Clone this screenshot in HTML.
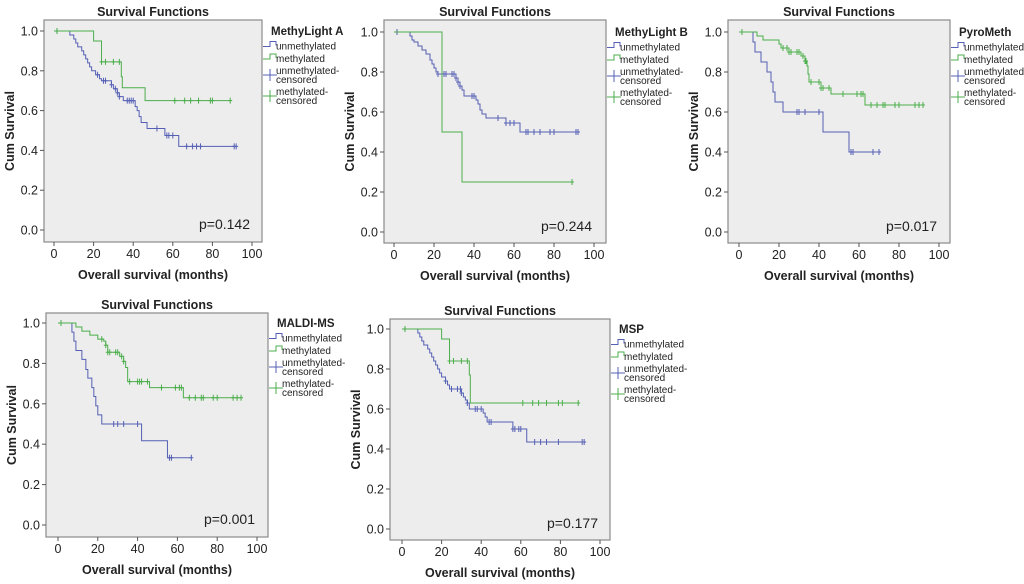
<!DOCTYPE html>
<html><head><meta charset="utf-8">
<style>
html,body{margin:0;padding:0;background:#fff;width:1024px;height:584px;overflow:hidden}
svg{display:block}
text{font-family:"Liberation Sans",Arial,sans-serif;fill:#222}
</style></head>
<body>
<svg id="fig" width="1024" height="584" viewBox="0 0 1024 584" xmlns="http://www.w3.org/2000/svg"></svg>
<script>
// ---- data ----
const xTicks = [0,20,40,60,80,100];
const yTicks = [0.0,0.2,0.4,0.6,0.8,1.0];
const legendLabels = ["unmethylated","methylated","unmethylated-|censored","methylated-|censored"];
const panelTitles = ["MethyLight A","MethyLight B","PyroMeth","MALDI-MS","MSP"];
const pValues = ["p=0.142","p=0.244","p=0.017","p=0.001","p=0.177"];

// panel 1 MethyLight A
const aUnTimes = [8,10,11,12,14,15,16,17,18,19,21,23,24,29,30,32,33,35,41,42,43,44,47,56,63];
const aUnVals  = [0.98,0.96,0.94,0.92,0.90,0.88,0.86,0.84,0.82,0.80,0.78,0.76,0.75,0.73,0.71,0.69,0.67,0.65,0.62,0.60,0.57,0.54,0.51,0.475,0.42];
const aUnCens  = [1.5,22,25,26,29,31,32,33,37,38,39,40,52,57,58,60,67,70,72,74,91,92];
const aMeTimes = [20,24,34,34.5,46];
const aMeVals  = [0.95,0.845,0.77,0.715,0.65];
const aMeCens  = [1.5,24,26,30,33,61,66,69,73,79,80,89];
// panel 2 MethyLight B
const bUnTimes = [8,9,10,12,14,16,18,19,20,21,22,31,32,33,34,35,41,42,43,44,46,56,63];
const bUnVals  = [0.98,0.96,0.95,0.93,0.91,0.89,0.86,0.84,0.82,0.80,0.79,0.77,0.75,0.73,0.71,0.68,0.66,0.64,0.61,0.59,0.57,0.545,0.50];
const bUnCens  = [1.5,22,24,25,26,29,30,31,32,33,39,40,52,56,58,60,66,67,70,73,78,80,91,92];
const bMeTimes = [24,34];
const bMeVals  = [0.5,0.25];
const bMeCens  = [89];
// panel 3 PyroMeth
const cUnTimes = [7,8,11,14,16,17,18,22,42,55];
const cUnVals  = [0.95,0.90,0.85,0.80,0.75,0.70,0.65,0.60,0.50,0.40];
const cUnCens  = [29,30,33,40,56,57,67,70];
const cMeTimes = [9,12,20,21,25,31,33,34,34.5,35,41,46,63];
const cMeVals  = [0.98,0.96,0.94,0.92,0.90,0.88,0.855,0.83,0.79,0.75,0.72,0.69,0.635];
const cMeCens  = [1.5,22,24,25,26,29,30,32,33,33.5,36,40,41,42,45,52,59,61,62,66,69,72,73,78,80,88,90,92];
// panel 4 MALDI-MS
const dUnTimes = [7,8,9,12,14,15,17,18,19,20,22,42,55];
const dUnVals  = [0.955,0.91,0.864,0.82,0.77,0.727,0.68,0.636,0.59,0.545,0.50,0.417,0.333];
const dUnCens  = [28,30,33,40,56,57,67];
const dMeTimes = [9,12,16,20,23,24,25,31,33,34,35,46,63];
const dMeVals  = [0.98,0.96,0.94,0.92,0.91,0.89,0.855,0.835,0.81,0.78,0.71,0.68,0.63];
const dMeCens  = [1.5,22,24,25,26,29,30,32,33,36,40,41,42,45,52,59,61,62,66,69,72,73,78,80,88,90,92];
// panel 5 MSP
const eUnTimes = [8,9,10,11,13,14,15,16,17,18,19,20,22,23,24,30,31,32,33,34,41,42,43,56,63];
const eUnVals  = [0.98,0.96,0.94,0.92,0.90,0.88,0.86,0.84,0.82,0.80,0.78,0.76,0.74,0.72,0.70,0.68,0.66,0.645,0.63,0.60,0.58,0.56,0.535,0.50,0.435];
const eUnCens  = [1.5,22,25,28,29.5,30,33,37,38,40,44,45,56,57,59,60,67,70,73,79,91,92];
const eMeTimes = [20,24,34,34.5];
const eMeVals  = [0.95,0.84,0.77,0.63];
const eMeCens  = [1.5,24,26,30,33,61,66,69,73,79,81,89];

const seriesData = [
 [aUnTimes,aUnVals,aUnCens,aMeTimes,aMeVals,aMeCens],
 [bUnTimes,bUnVals,bUnCens,bMeTimes,bMeVals,bMeCens],
 [cUnTimes,cUnVals,cUnCens,cMeTimes,cMeVals,cMeCens],
 [dUnTimes,dUnVals,dUnCens,dMeTimes,dMeVals,dMeCens],
 [eUnTimes,eUnVals,eUnCens,eMeTimes,eMeVals,eMeCens]
];
// ---- layout ----
const layouts = [
 {fl:44,fr:262,ft:20,fb:242,x0:54,x1:252,y0:230,y1:31},
 {fl:384,fr:606,ft:20,fb:243,x0:394,x1:594,y0:232,y1:32},
 {fl:728,fr:950,ft:20,fb:243,x0:739,x1:939,y0:232,y1:32},
 {fl:46,fr:268,ft:313,fb:537,x0:58,x1:257,y0:525,y1:323},
 {fl:390,fr:610,ft:319,fb:540,x0:402,x1:600,y0:529,y1:329}
];
const BLUE="#5560b5", GREEN="#4cae4c";
const svg=document.getElementById('fig');
const NS="http://www.w3.org/2000/svg";
function mk(tag,attrs,parent){const e=document.createElementNS(NS,tag);for(const k in attrs)e.setAttribute(k,attrs[k]);(parent||svg).appendChild(e);return e;}
function txt(s,attrs,parent){const e=mk('text',attrs,parent);e.textContent=s;return e;}

layouts.forEach((L,i)=>{
  const g=mk('g',{});
  
  
  const xs=v=>L.x0+(L.x1-L.x0)*v/100;
  const ys=v=>L.y0+(L.y1-L.y0)*v;
  const frame=mk('rect',{x:L.fl,y:L.ft,width:L.fr-L.fl,height:L.fb-L.ft,fill:"#ededed",stroke:"#8a8a8a","stroke-width":1.2},g);
  
  
  const t=txt("Survival Functions",{x:(L.fl+L.fr)/2,y:L.ft-4,"text-anchor":"middle","font-size":12.5,"font-weight":"bold"},g);
  
  
  yTicks.forEach(v=>{
    mk('line',{x1:L.fl-4,x2:L.fl,y1:ys(v),y2:ys(v),stroke:"#555"},g);
    const l=txt(v.toFixed(1),{x:L.fl-6,y:ys(v)+4.5,"text-anchor":"end","font-size":12.5},g);
    
    
  });
  xTicks.forEach(v=>{
    mk('line',{x1:xs(v),x2:xs(v),y1:L.fb,y2:L.fb+4,stroke:"#555"},g);
    const l=txt(String(v),{x:xs(v),y:L.fb+16,"text-anchor":"middle","font-size":12.5},g);
    
    
  });
  const yt=txt("Cum Survival",{x:0,y:0,transform:`translate(${L.fl-30},${(L.ft+L.fb)/2}) rotate(-90)`,"text-anchor":"middle","font-size":12.5,"font-weight":"bold"},g);
  
  
  const xt=txt("Overall survival (months)",{x:(L.fl+L.fr)/2,y:L.fb+37,"text-anchor":"middle","font-size":12.5,"font-weight":"bold"},g);
  
  
  const pv=txt(pValues[i],{x:xs(100)-2,y:L.y0-1,"text-anchor":"end","font-size":14},g);
  
  
  const D=seriesData[i];
  [[D[0],D[1],D[2],BLUE,'unmethylated'],[D[3],D[4],D[5],GREEN,'methylated']].forEach(([T,V,C,col,nm])=>{
    let d=`M${xs(0)},${ys(1)}`;
    T.forEach((tt,k)=>{d+=` H${xs(tt)} V${ys(V[k])}`;});
    const allMax=Math.max(...C,...T);
    d+=` H${xs(allMax)}`;
    const p=mk('path',{d:d,fill:"none",stroke:col,"stroke-width":1},g);
    
    
    C.forEach(c=>{
      let v=1; T.forEach((tt,k)=>{if(tt<=c)v=V[k];});
      const m=mk('path',{d:`M${xs(c)},${ys(v)-3}V${ys(v)+3}M${xs(c)-2},${ys(v)}H${xs(c)+2}`,stroke:col,"stroke-width":1},g);
      
      
    });
  });
  // legend
  const lx=L.fr+1, ly=L.y1+4;
  const lt=txt(panelTitles[i],{x:lx+8,y:ly,"font-size":11.5,"font-weight":"bold"},g);
  
  
  const offs=[14.5,27,39,60];
  legendLabels.forEach((lab,k)=>{
    const col=k%2===0?BLUE:GREEN;
    const by=ly+offs[k];
    if(k<2){mk('path',{d:`M${lx},${by-3}H${lx+7}V${by-8}H${lx+13}V${by-4}`,fill:"none",stroke:col},g);}
    else{mk('path',{d:`M${lx},${by+1}H${lx+14}M${lx+7},${by-5}V${by+7}`,stroke:col},g);}
    const parts=lab.split('|');
    const e=txt(parts[0],{x:lx+13,y:by,"font-size":10},g);
    
    
    if(parts[1]){const e2=txt(parts[1],{x:lx+13,y:by+9,"font-size":10},g);
      
      }
  });
});
</script>
</body></html>
